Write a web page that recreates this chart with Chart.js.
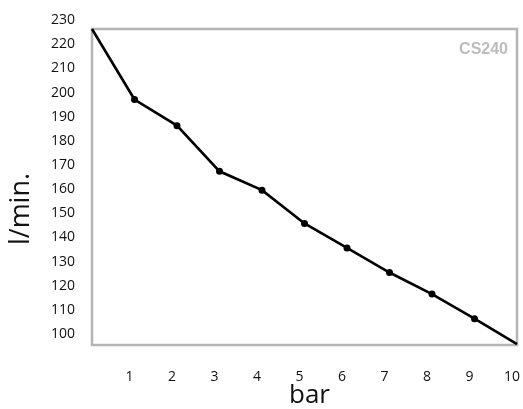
<!DOCTYPE html>
<html>
<head>
<meta charset="utf-8">
<script src="https://cdn.jsdelivr.net/npm/chart.js@4.4.1/dist/chart.umd.min.js"></script>
<style>
    html, body { margin: 0; padding: 0; background: #fff; }
    #chart { display: block; }
</style>
</head>
<body>
<canvas id="chart" width="523" height="409"></canvas>
<script>
const PRESSURE_BAR = [0, 1, 2, 3, 4, 5, 6, 7, 8, 9, 10];
const FLOW_LPM = [226.3, 197.1, 186.3, 167.4, 159.6, 145.8, 135.7, 125.5, 116.6, 106.4, 95.9];
const X_TICKS = [1, 2, 3, 4, 5, 6, 7, 8, 9, 10];
const Y_TICKS = [100, 110, 120, 130, 140, 150, 160, 170, 180, 190, 200, 210, 220, 230];
const Y_MIN = 95.5;
const Y_MAX = 226.3;
const MODEL_LABEL = "CS240";
const X_TITLE = "bar";
const Y_TITLE = "l/min.";

const TICK_FONT = { family: "'Open Sans', 'Noto Sans', sans-serif", size: 14 };
const TITLE_FAMILY = "'Open Sans', 'Noto Sans', sans-serif";

// frame around the plot, axis titles and the model tag
const framePlugin = {
    id: "frame",
    beforeDatasetsDraw(chart) {
        const { ctx, chartArea: a } = chart;
        ctx.save();
        ctx.strokeStyle = "#b5b5b5";
        ctx.lineWidth = 2.5;
        ctx.strokeRect(a.left, a.top, a.right - a.left, a.bottom - a.top);
        ctx.restore();
    },
    afterDraw(chart) {
        const { ctx, chartArea: a } = chart;
        ctx.save();
        ctx.fillStyle = "#bdbdbd";
        ctx.font = "bold 16px 'Liberation Sans', Arial, sans-serif";
        ctx.textAlign = "right";
        ctx.textBaseline = "middle";
        ctx.fillText(MODEL_LABEL, a.right - 9, a.top + 21);

        ctx.fillStyle = "#111";
        ctx.font = `26px ${TITLE_FAMILY}`;
        ctx.textAlign = "center";
        ctx.textBaseline = "middle";
        ctx.fillText(X_TITLE, (a.left + a.right) / 2 + 5, a.bottom + 51);

        ctx.translate(a.left - 71, (a.top + a.bottom) / 2 + 22);
        ctx.rotate(-Math.PI / 2);
        ctx.font = `27px ${TITLE_FAMILY}`;
        ctx.fillText(Y_TITLE, 0, 0);
        ctx.restore();
    },
};

new Chart(document.getElementById("chart"), {
    type: "line",
    data: {
        datasets: [
            {
                data: PRESSURE_BAR.map((x, i) => ({ x, y: FLOW_LPM[i] })),
                borderColor: "#000",
                backgroundColor: "#000",
                borderWidth: 2.6,
                pointRadius: PRESSURE_BAR.map((_, i) => (i === 0 || i === PRESSURE_BAR.length - 1 ? 0 : 3.5)),
                pointBorderWidth: 0,
                tension: 0,
                clip: false,
            },
        ],
    },
    options: {
        responsive: false,
        devicePixelRatio: 1,
        animation: false,
        layout: { padding: { top: 29, right: 6, left: 0, bottom: 0 } },
        plugins: {
            legend: { display: false },
            tooltip: { enabled: false },
        },
        scales: {
            x: {
                type: "linear",
                min: 0,
                max: 10,
                afterBuildTicks: (axis) => {
                    axis.ticks = X_TICKS.map((value) => ({ value }));
                },
                afterFit: (axis) => {
                    axis.height = 64;
                    axis.paddingLeft = 0;
                    axis.paddingRight = 0;
                },
                grid: { display: false, drawTicks: false },
                border: { display: false },
                ticks: {
                    autoSkip: false,
                    maxRotation: 0,
                    padding: 24,
                    labelOffset: -5,
                    color: "#111",
                    font: TICK_FONT,
                },
            },
            y: {
                type: "linear",
                min: Y_MIN,
                max: Y_MAX,
                afterBuildTicks: (axis) => {
                    axis.ticks = Y_TICKS.map((value) => ({ value }));
                },
                afterFit: (axis) => {
                    axis.width = 92;
                    axis.paddingTop = 0;
                    axis.paddingBottom = 0;
                },
                grid: { display: false, drawTicks: false },
                border: { display: false },
                ticks: {
                    autoSkip: false,
                    padding: 17,
                    color: "#111",
                    font: TICK_FONT,
                },
            },
        },
    },
    plugins: [framePlugin],
});
</script>
</body>
</html>
